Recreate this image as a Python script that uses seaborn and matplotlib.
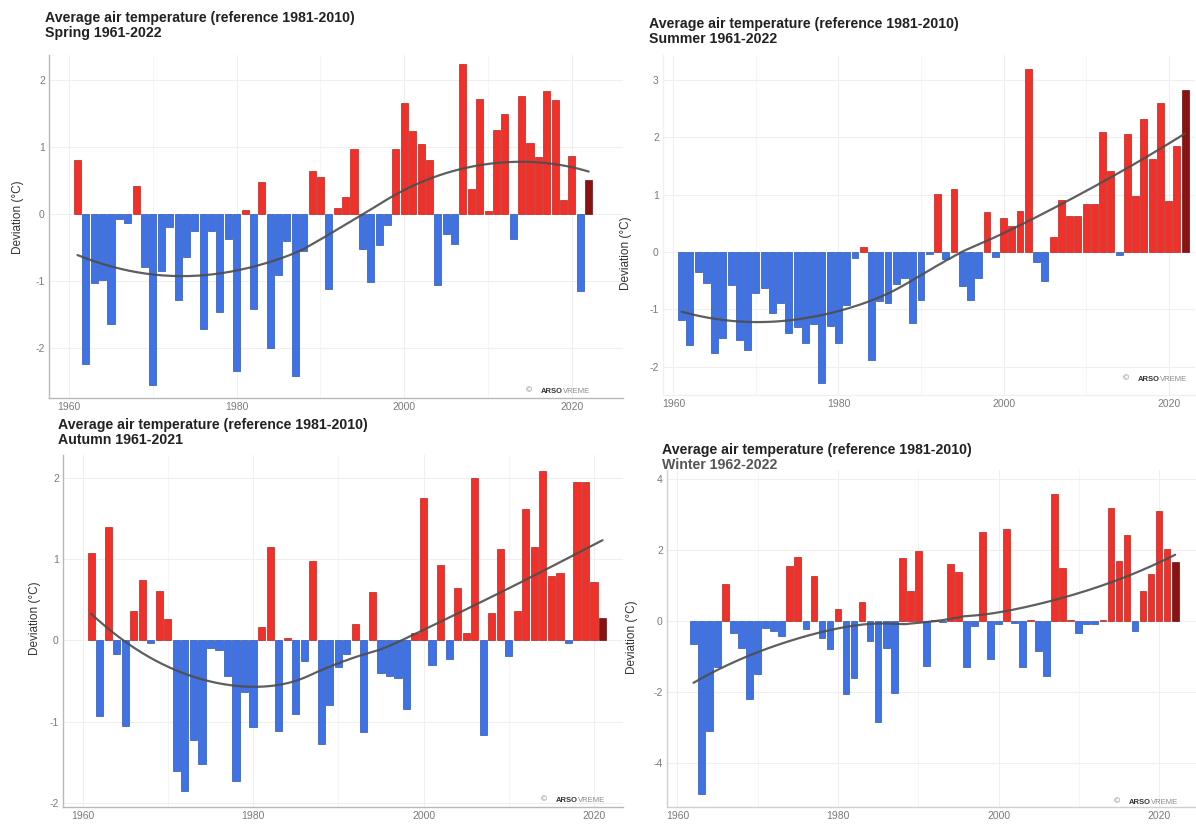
import numpy as np
import pandas as pd
import matplotlib
matplotlib.use("Agg")
import matplotlib.pyplot as plt
import matplotlib.colors as mcolors
import seaborn as sns

# ---------------------------------------------------------------- data
spring_years = list(range(1961, 2023))
spring_dev = [
    0.81, -2.24, -1.04, -0.99, -1.65, -0.08, -0.14, 0.41, -0.80, -2.55,
    -0.85, -0.20, -1.28, -0.65, -0.25, -1.72, -0.25, -1.47, -0.37, -2.35,
    0.06, -1.42, 0.48, -2.00, -0.92, -0.40, -2.42, -0.55, 0.64, 0.55,
    -1.12, 0.09, 0.25, 0.97, -0.52, -1.02, -0.47, -0.17, 0.96, 1.65,
    1.24, 1.04, 0.81, -1.07, -0.30, -0.45, 2.24, 0.37, 1.71, 0.04,
    1.25, 1.49, -0.37, 1.76, 1.05, 0.85, 1.84, 1.70, 0.21, 0.86,
    -1.15, 0.50,
]

summer_years = list(range(1961, 2023))
summer_dev = [
    -1.18, -1.62, -0.34, -0.54, -1.76, -1.50, -0.57, -1.53, -1.70, -0.72,
    -0.63, -1.06, -0.89, -1.41, -1.30, -1.59, -1.25, -2.28, -1.28, -1.59,
    -0.92, -0.10, 0.09, -1.88, -0.85, -0.88, -0.55, -0.45, -1.24, -0.83,
    -0.04, 1.01, -0.13, 1.09, -0.60, -0.83, -0.45, 0.70, -0.08, 0.60,
    0.45, 0.72, 3.19, -0.18, -0.51, 0.26, 0.90, 0.62, 0.62, 0.84,
    0.83, 2.09, 1.41, -0.05, 2.06, 0.97, 2.31, 1.62, 2.59, 0.88,
    1.84, 2.82,
]

autumn_years = list(range(1961, 2022))
autumn_dev = [
    1.07, -0.93, 1.39, -0.17, -1.05, 0.36, 0.74, -0.03, 0.61, 0.26,
    -1.61, -1.85, -1.22, -1.52, -0.10, -0.12, -0.44, -1.73, -0.64, -1.07,
    0.16, 1.15, -1.11, 0.03, -0.90, -0.25, 0.97, -1.27, -0.80, -0.33,
    -0.17, 0.20, -1.13, 0.59, -0.40, -0.44, -0.46, -0.85, 0.09, 1.75,
    -0.30, 0.93, -0.23, 0.65, 0.09, 2.00, -1.16, 0.34, 1.12, -0.19,
    0.36, 1.61, 1.15, 2.08, 0.79, 0.83, -0.03, 1.95, 1.95, 0.72,
    0.27,
]

winter_years = list(range(1962, 2023))
winter_dev = [
    -0.66, -4.88, -3.10, -1.31, 1.05, -0.33, -0.75, -2.20, -1.50, -0.19,
    -0.28, -0.42, 1.55, 1.80, -0.23, 1.27, -0.47, -0.80, 0.33, -2.07,
    -1.60, 0.52, -0.56, -2.86, -0.75, -2.02, 1.78, 0.85, 1.97, -1.27,
    0.04, -0.04, 1.60, 1.39, -1.30, -0.14, 2.49, -1.08, -0.10, 2.58,
    -0.05, -1.30, 0.03, -0.85, -1.55, 3.57, 1.50, 0.02, -0.33, -0.10,
    -0.10, 0.02, 3.17, 1.69, 2.42, -0.28, 0.85, 1.33, 3.10, 2.02,
    1.67,
]

title_main = "Average air temperature (reference 1981-2010)"
subtitles = ["Spring 1961-2022", "Summer 1961-2022",
             "Autumn 1961-2021", "Winter 1962-2022"]
year_ticks = [1960, 1980, 2000, 2020]

# ---------------------------------------------------------------- style
sns.set_style("white")
plt.rcParams["font.family"] = ["Liberation Sans", "DejaVu Sans"]
plt.rcParams["axes.unicode_minus"] = False

palette = {"neg": "#3f72e6", "pos": "#f2302a", "last": "#8a1212"}

W, H = 1196, 824


def fx(px):
    return px / W


def fy(py):
    return 1 - py / H


def box(left, top, right, bottom):
    return [left / W, 1 - bottom / H, (right - left) / W, (bottom - top) / H]


def loess(x, y, grid, span=0.9):
    """Local quadratic regression with tricube weights."""
    x = np.asarray(x, float)
    y = np.asarray(y, float)
    n = len(x)
    q = int(np.floor(n * span))
    out = []
    for x0 in grid:
        d = np.abs(x - x0)
        h = np.sort(d)[q - 1]
        w = np.clip(1 - (d / h) ** 3, 0, None) ** 3
        X = np.vstack([np.ones(n), x - x0, (x - x0) ** 2]).T
        sw = np.sqrt(w)
        beta = np.linalg.lstsq(X * sw[:, None], y * sw, rcond=None)[0]
        out.append(beta[0])
    return np.array(out)


panels = [
    dict(years=spring_years, dev=spring_dev, sub=subtitles[0],
         box=(49, 55, 623, 398), xlim=(1957.6, 2026.1), ylim=(-2.75, 2.37),
         yticks=[-2, -1, 0, 1, 2], title=(45, 18), ylab=(18, 217),
         mark=(590, 391), spine="#b8b8b8", subcolor="#222222"),
    dict(years=summer_years, dev=summer_dev, sub=subtitles[1],
         box=(663, 55, 1195, 395), xlim=(1958.74, 2023.2), ylim=(-2.49, 3.43),
         yticks=[-2, -1, 0, 1, 2, 3], title=(649, 24), ylab=(626, 253),
         mark=(1187, 379), spine="#f0f0f0", subcolor="#222222"),
    dict(years=autumn_years, dev=autumn_dev, sub=subtitles[2],
         box=(63, 455, 623, 807), xlim=(1957.7, 2023.4), ylim=(-2.05, 2.28),
         yticks=[-2, -1, 0, 1, 2], title=(58, 425), ylab=(35, 618),
         mark=(605, 800), spine="#b8b8b8", subcolor="#222222"),
    dict(years=winter_years, dev=winter_dev, sub=subtitles[3],
         box=(667, 470, 1196, 807), xlim=(1958.7, 2024.6), ylim=(-5.24, 4.25),
         yticks=[-4, -2, 0, 2, 4], title=(662, 450), ylab=(632, 637),
         mark=(1178, 802), spine="#d0d0d0", subcolor="#555555"),
]

fig = plt.figure(figsize=(W / 100, H / 100), dpi=100)

for p in panels:
    ax = fig.add_axes(box(*p["box"]))
    kinds = ["neg" if v < 0 else "pos" for v in p["dev"]]
    kinds[-1] = "last"
    df = pd.DataFrame({"year": p["years"], "dev": p["dev"], "kind": kinds})

    sns.barplot(data=df, x="year", y="dev", hue="kind", palette=palette,
                native_scale=True, dodge=False, width=0.84, legend=False,
                errorbar=None, saturation=1, ax=ax, zorder=2)
    for bar in ax.patches:
        rgb = np.array(mcolors.to_rgb(bar.get_facecolor()))
        bar.set_edgecolor(rgb * 0.75)
        bar.set_linewidth(0.5)

    # smoothed trend through the yearly deviations
    grid = np.linspace(p["years"][0], p["years"][-1], 240)
    trend = loess(p["years"], p["dev"], grid)
    sns.lineplot(x=grid, y=trend, color="#4d4d4d", linewidth=1.6,
                 alpha=0.9, ax=ax, zorder=3)

    ax.set_xlim(*p["xlim"])
    ax.set_ylim(*p["ylim"])
    ax.set_xticks(year_ticks)
    ax.set_xticklabels([str(t) for t in year_ticks])
    ax.set_xticks([1970, 1990, 2010], minor=True)
    ax.set_yticks(p["yticks"])
    ax.set_yticklabels([str(t) for t in p["yticks"]])
    ax.tick_params(axis="both", which="both", length=0, labelsize=7.5,
                   labelcolor="#7a7a7a", pad=3)
    ax.grid(True, which="major", color="#efefef", linewidth=0.8, zorder=0)
    ax.grid(True, which="minor", axis="x", color="#f5f5f5", linewidth=0.8,
            zorder=0)
    ax.set_axisbelow(True)
    ax.set_xlabel("")
    ax.set_ylabel("")
    for side in ("top", "right"):
        ax.spines[side].set_visible(False)
    for side in ("left", "bottom"):
        ax.spines[side].set_color(p["spine"])
        ax.spines[side].set_linewidth(1.0)

    tx, ty = p["title"]
    fig.text(fx(tx), fy(ty), title_main, ha="left", va="center",
             fontsize=10.2, fontweight="bold", color="#222222")
    fig.text(fx(tx), fy(ty + 15), p["sub"], ha="left", va="center",
             fontsize=10.2, fontweight="bold", color=p["subcolor"])

    lx, ly = p["ylab"]
    fig.text(fx(lx), fy(ly), "Deviation (°C)", rotation=90, ha="center",
             va="center", fontsize=8.5, color="#333333")

    mx, my = p["mark"]
    fig.text(fx(mx), fy(my), "VREME", ha="right", va="center",
             fontsize=5.5, color="#8a8a8a")
    fig.text(fx(mx - 27), fy(my), "ARSO", ha="right", va="center",
             fontsize=5.5, fontweight="bold", color="#333333")
    fig.text(fx(mx - 58), fy(my), "\u00a9", ha="right", va="center",
             fontsize=6, color="#777777")

fig.savefig("out.png", dpi=100, facecolor="white")
